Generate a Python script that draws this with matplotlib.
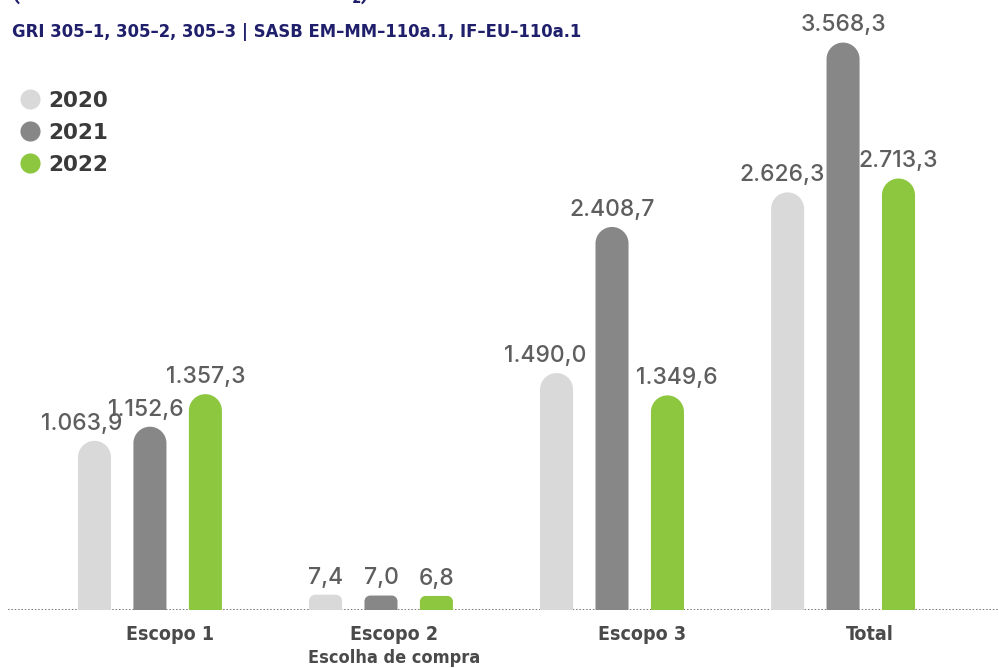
import matplotlib
matplotlib.use("Agg")
import matplotlib.pyplot as plt
from matplotlib.path import Path
from matplotlib.patches import PathPatch
import numpy as np

# ---------------- data ----------------
categories = ["Escopo 1", "Escopo 2", "Escopo 3", "Total"]
sublabels = ["", "Escolha de compra", "", ""]
years = ["2020", "2021", "2022"]
v2020 = [1063.9, 7.4, 1490.0, 2626.3]
v2021 = [1152.6, 7.0, 2408.7, 3568.3]
v2022 = [1357.3, 6.8, 1349.6, 2713.3]
series = [v2020, v2021, v2022]

title_text = "(em milhares de toneladas de CO\u2082)"
subtitle_text = "GRI 305\u20131, 305\u20132, 305\u20133 | SASB EM\u2013MM\u2013110a.1, IF\u2013EU\u2013110a.1"

# ---------------- style ----------------
colors = ["#d9d9d9", "#878787", "#8dc63f"]
label_color = "#5e5e5e"
cat_color = "#4a4a4a"
navy = "#1f1f6b"
small_scale = 13.0        # visual exaggeration for tiny bars (Escopo 2)
small_threshold = 100.0
label_dx = [0.085, 0.055, 0.13, 0.115]   # category label offsets (style)
# value-label horizontal nudges in points, per series x category (style)
value_nudge = [[-9, 0, -8, -4],
               [-3, 0, 0, 0],
               [0, 0, 7, 0]]

W, H, DPI = 999, 668, 100
fig = plt.figure(figsize=(W / DPI, H / DPI), dpi=DPI)
ax_bottom_px, ax_height_px = 58, 610
ax = fig.add_axes([0, ax_bottom_px / H, 1, ax_height_px / H])
xlim = (-0.649, 3.675)
ylim = (0, 3836)
ax.set_xlim(*xlim)
ax.set_ylim(*ylim)
ax.axis("off")

px_per_x = W / (xlim[1] - xlim[0])
px_per_y = ax_height_px / (ylim[1] - ylim[0])

offsets = [-0.24, 0.0, 0.24]
bar_w = 0.143


def rounded_bar(xc, w, h, color):
    w_px = w * px_per_x
    h_px = h * px_per_y
    r_px = min(w_px / 2, 0.4 * h_px)
    rx = r_px / px_per_x
    ry = r_px / px_per_y
    k = 0.5523
    x0, x1 = xc - w / 2, xc + w / 2
    verts = [
        (x0, 0), (x0, h - ry),
        (x0, h - ry + k * ry), (x0 + rx - k * rx, h), (x0 + rx, h),
        (x1 - rx, h),
        (x1 - rx + k * rx, h), (x1, h - ry + k * ry), (x1, h - ry),
        (x1, 0), (x0, 0),
    ]
    codes = [Path.MOVETO, Path.LINETO,
             Path.CURVE4, Path.CURVE4, Path.CURVE4,
             Path.LINETO,
             Path.CURVE4, Path.CURVE4, Path.CURVE4,
             Path.LINETO, Path.CLOSEPOLY]
    ax.add_patch(PathPatch(Path(verts, codes), facecolor=color,
                           edgecolor="none", zorder=3))


def fmt(v):
    s = f"{v:,.1f}"
    return s.replace(",", "X").replace(".", ",").replace("X", ".")


x = np.arange(len(categories))
for si, vals in enumerate(series):
    for ci, v in enumerate(vals):
        disp = v if v >= small_threshold else v * small_scale
        xc = x[ci] + offsets[si]
        rounded_bar(xc, bar_w, disp, colors[si])
        ax.annotate(fmt(v), (xc, disp), xytext=(value_nudge[si][ci], 8),
                    textcoords="offset points",
                    ha="center", va="baseline", fontsize=16.5,
                    fontweight="medium",
                    family=["Inter", "DejaVu Sans"], color=label_color,
                    zorder=4)

# dotted baseline
ax.axhline(0, xmin=8 / W, xmax=1, color="#555555", linestyle=(0, (1, 1.2)),
           linewidth=1.1, zorder=2)

# category labels
for ci, c in enumerate(categories):
    ax.annotate(c, (x[ci] + label_dx[ci], 0), xytext=(0, -11),
                textcoords="offset points", ha="center", va="top",
                fontsize=14, fontweight="bold", fontstretch="condensed",
                family="DejaVu Sans", color=cat_color, annotation_clip=False)
    if sublabels[ci]:
        ax.annotate(sublabels[ci], (x[ci] + label_dx[ci], 0), xytext=(0, -28),
                    textcoords="offset points", ha="center", va="top",
                    fontsize=13, fontweight="bold", fontstretch="condensed",
                    family="DejaVu Sans", color=cat_color, annotation_clip=False)

# legend
leg_x_px = 30
leg_y_px = [99, 131, 163]
for yr, col, yp in zip(years, colors, leg_y_px):
    fy = 1 - yp / H
    fig.add_artist(plt.Line2D([leg_x_px / W], [fy], marker="o", markersize=14.5,
                              markerfacecolor=col, markeredgecolor="none",
                              linestyle="none", transform=fig.transFigure))
    fig.text(48 / W, fy, yr, ha="left", va="center_baseline", fontsize=15.5,
             fontweight="bold", family="DejaVu Sans", color="#3a3a3a")

# titles
fig.text(12 / W, 1 - 37 / H, subtitle_text, ha="left", va="baseline",
         fontsize=11.9, fontweight="bold",
         family="DejaVu Sans", color=navy)
fig.text(12 / W, 1 + 1 / H, title_text, ha="left", va="baseline",
         fontsize=16.5, fontweight="bold",
         family=["Roboto", "DejaVu Sans"], color=navy)

fig.savefig("out.png", dpi=DPI)
